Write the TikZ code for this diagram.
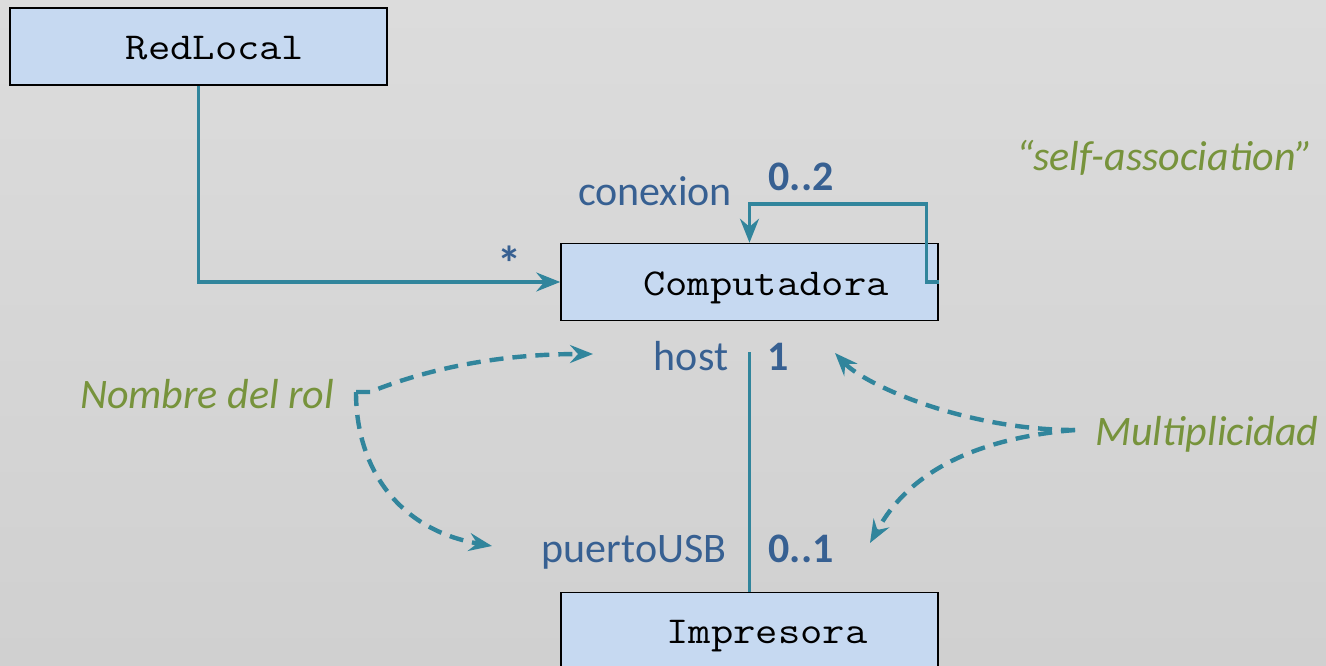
\documentclass[tikz,border=0pt]{standalone}
\usepackage{fontspec}
\setmainfont{Carlito}
\newfontfamily\monoface{Latin Modern Mono}[FakeStretch=1.14]
\usetikzlibrary{arrows.meta}

\definecolor{linkteal}{HTML}{31859C}
\definecolor{roleblue}{HTML}{376092}
\definecolor{notegreen}{HTML}{77933C}
\definecolor{boxfill}{HTML}{C6D9F1}
\definecolor{bgtop}{HTML}{DCDCDC}
\definecolor{bgbottom}{HTML}{D0D0D0}

\begin{document}
\begin{tikzpicture}[x=1pt,y=-1pt,
  classbox/.style={draw=black, line width=1.5pt, fill=boxfill, rectangle,
    minimum width=377pt, minimum height=77pt, inner sep=0pt},
  classname/.style={font=\monoface\fontsize{38}{44}\selectfont, anchor=base, inner sep=0pt},
  rolename/.style={font=\fontsize{42}{50}\selectfont, text=roleblue, anchor=base, inner sep=0pt},
  multiplicity/.style={rolename, font=\fontsize{42}{50}\selectfont\bfseries},
  note/.style={font=\fontsize{42}{50}\selectfont\itshape, text=notegreen, anchor=base, inner sep=0pt},
  assoc/.style={draw=linkteal, line width=3.4pt},
  navarrow/.style={assoc, -{Stealth[length=24pt,width=19pt,inset=8pt]}},
  pointer/.style={draw=linkteal, line width=4.4pt, dash pattern=on 14pt off 9pt,
    -{Stealth[length=23pt,width=18pt,inset=8pt]}},
]
% background
\shade[top color=bgtop, bottom color=bgbottom] (0,0) rectangle (1326,665);
\useasboundingbox (0,0) rectangle (1326,665);
\clip (0,0) rectangle (1326,665);

% classes
\node[classbox] (red) at (198.5,46.5) {};
\node[classbox] (comp) at (749.5,282) {};
\node[classbox] (imp) at (749.5,631) {};
\node[classname] (redname) at (215,59) {RedLocal};
\node[classname] (compname) at (766,295) {Computadora};
\node[classname] (impname) at (767,643) {Impresora};

% associations
\draw[navarrow] (red.south) |- (comp.west);
\draw[navarrow] (comp.east) -- ++(-12,0) -- ++(0,-78) -| (comp.north);
\coordinate (hosttop) at (749.5,352);
\draw[assoc] (hosttop) -- (imp.north);

% role names and multiplicities
\node[multiplicity, scale=1.15] (star) at (510,280) {*};
\node[rolename] (conexion) at (655,205) {conexion};
\node[multiplicity] (mul02) at (801,190) {0..2};
\node[rolename] (host) at (691,370) {host};
\node[multiplicity] (mul1) at (778,370) {1};
\node[rolename] (usb) at (634,562) {puertoUSB};
\node[multiplicity] (mul01) at (801,562) {0..1};

% notes
\node[note] (rolnote) at (207,408) {Nombre del rol};
\node[note] (multnote) at (1207,445) {Multiplicidad};
\node[note] (selfnote) at (1165,170) {“self-association”};

% pointers from the notes
\coordinate (rolfork) at (356,392);
\coordinate (hostpt) at (593,354);
\coordinate (usbpt) at (492,546);
\draw[pointer] (rolfork) -- ++(14,0) .. controls (410,376) and (480,354) .. (hostpt);
\draw[pointer] (rolfork) .. controls (356,470) and (400,530) .. (usbpt);

\coordinate (multfork) at (1075,430);
\coordinate (onept) at (835,353);
\coordinate (zeroonept) at (870,543);
\draw[pointer] (multfork) .. controls (965,430) and (865,385) .. (onept);
\draw[pointer] (multfork) .. controls (928,442) and (890,508) .. (zeroonept);
\end{tikzpicture}
\end{document}
